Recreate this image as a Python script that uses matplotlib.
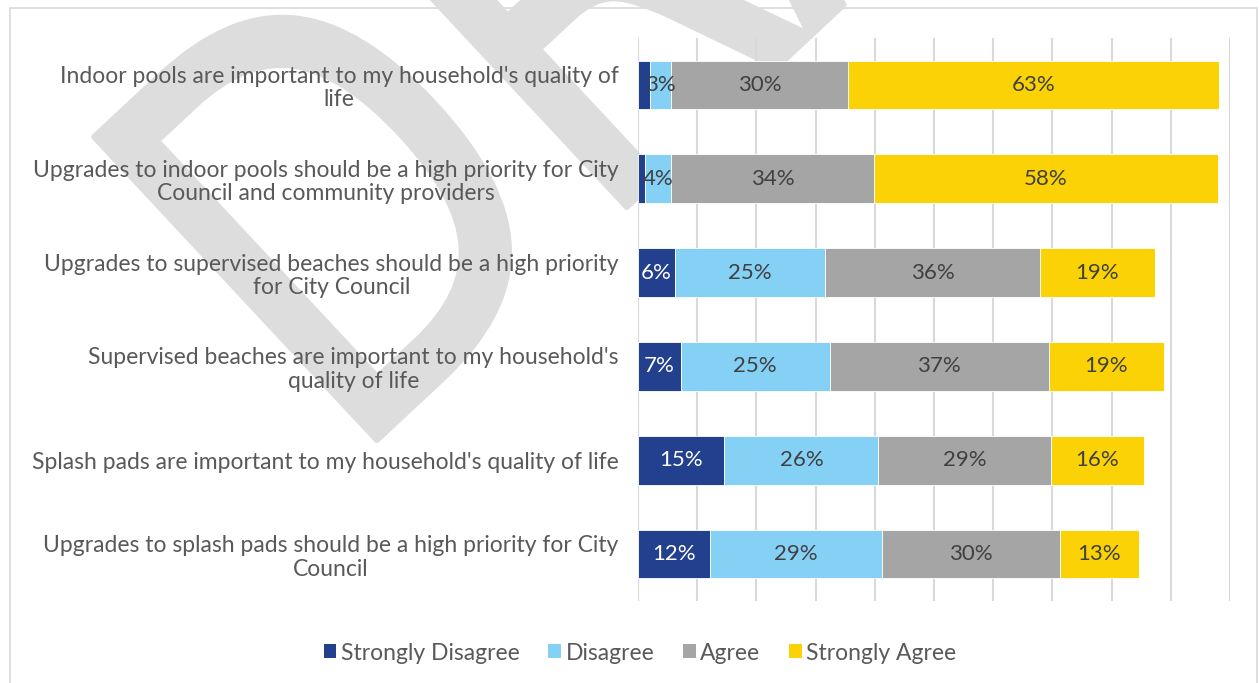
import matplotlib
matplotlib.use("Agg")
import matplotlib.pyplot as plt
from matplotlib.patches import Patch, Rectangle, PathPatch
from matplotlib.textpath import TextPath
from matplotlib.font_manager import FontProperties
from matplotlib.transforms import Affine2D

categories = [
    "Indoor pools are important to my household's quality of\nlife",
    "Upgrades to indoor pools should be a high priority for City\nCouncil and community providers",
    "Upgrades to supervised beaches should be a high priority\nfor City Council",
    "Supervised beaches are important to my household's\nquality of life",
    "Splash pads are important to my household's quality of life",
    "Upgrades to splash pads should be a high priority for City\nCouncil",
]
series_names = ["Strongly Disagree", "Disagree", "Agree", "Strongly Agree"]
strongly_disagree = [2.1, 1.2, 6.3, 7.2, 14.6, 12.2]
disagree = [3.4, 4.4, 25.3, 25.2, 26.0, 29.0]
agree = [30.0, 34.3, 36.3, 37.0, 29.2, 30.0]
strongly_agree = [62.6, 58.0, 19.4, 19.4, 15.6, 13.4]
watermark = "DRAFT"

colors = ["#23408E", "#85D0F5", "#A5A5A5", "#FAD206"]
label_colors = ["white", "#404040", "#404040", "#404040"]
FONT = ["Lato", "DejaVu Sans"]
plt.rcParams["font.family"] = FONT

W, H = 1259, 683
fig = plt.figure(figsize=(W / 100, H / 100), dpi=100)

def fx(px):
    return px / W

def fy(py):
    return 1 - py / H

# frame
fig.patches.append(Rectangle((fx(10), fy(700)), fx(1257) - fx(10), fy(8) - fy(700),
                             transform=fig.transFigure, fill=False,
                             edgecolor="#D9D9D9", linewidth=1.2, zorder=-2))

# watermark (condensed and rotated letters)
tp = TextPath((0, 0), watermark, size=569, prop=FontProperties(family="DejaVu Sans"))
wm_tr = Affine2D().scale(0.78, 1.0).rotate_deg(43).translate(345, H - 470)
wm = PathPatch(tp, transform=wm_tr, facecolor="#DDDDDD", edgecolor="#DDDDDD",
               linewidth=4, joinstyle="round", zorder=-1)
fig.add_artist(wm)

ax = fig.add_axes([fx(638), fy(601), fx(1230) - fx(638), fy(38) - fy(601)])
ax.set_facecolor("none")

series = [strongly_disagree, disagree, agree, strongly_agree]
y = list(range(len(categories)))
left = [0.0] * len(categories)
for name, vals, c, lc in zip(series_names, series, colors, label_colors):
    bars = ax.barh(y, vals, left=left, height=0.52, color=c, label=name,
                   edgecolor="white", linewidth=0.6, zorder=2)
    for b, v in zip(bars, vals):
        if v >= 3:
            ax.text(b.get_x() + b.get_width() / 2, b.get_y() + b.get_height() / 2,
                    f"{round(v)}%", ha="center", va="center", color=lc,
                    fontsize=16, zorder=3)
    left = [l + v for l, v in zip(left, vals)]

ax.set_xlim(0, 100)
ax.set_ylim(len(categories) - 0.5, -0.5)
ax.set_xticks(range(0, 101, 10))
ax.xaxis.grid(True, color="#D9D9D9", linewidth=1.5, zorder=0)
ax.set_axisbelow(True)
ax.tick_params(axis="x", length=0, labelbottom=False)
ax.tick_params(axis="y", length=0, pad=14)
ax.set_yticks(y)
ax.set_yticklabels(categories, fontsize=16.5, color="#595959",
                   multialignment="center", linespacing=1.15)
for s in ax.spines.values():
    s.set_visible(False)

handles = [Patch(facecolor=c, edgecolor="none") for c in colors]
fig.legend(handles, series_names, loc="center", bbox_to_anchor=(fx(640), fy(653)),
           ncol=4, frameon=False, prop={"size": 16.5},
           labelcolor="#595959",
           handlelength=0.55, handleheight=0.55, handletextpad=0.2,
           columnspacing=1.25)

fig.savefig("out.png", dpi=100)
